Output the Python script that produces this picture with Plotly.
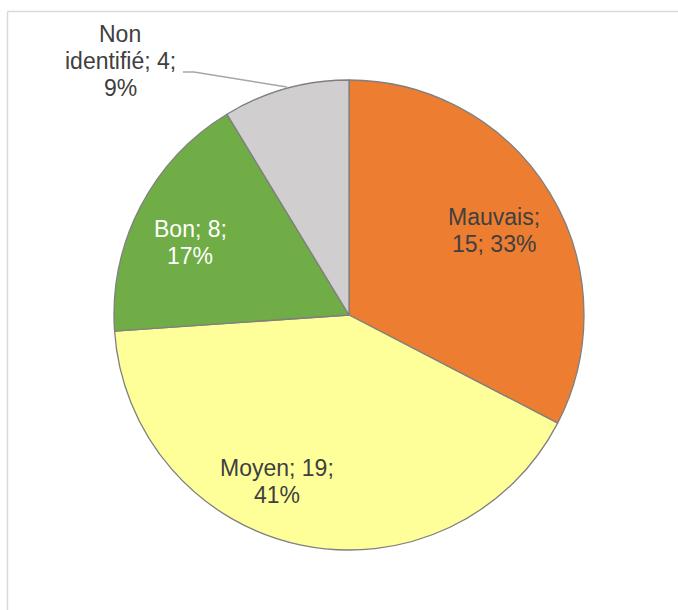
import textwrap
import plotly.graph_objects as go

# Répartition par état
categories = ["Mauvais", "Moyen", "Bon", "Non identifié"]
counts = [15, 19, 8, 4]
colors = ["#ED7D31", "#FFFF99", "#70AD47", "#D0CECE"]
text_colors = ["#404040", "#404040", "#FFFFFF", "#404040"]
wrap_widths = [9, 10, 7, 13]
# label block centres in pixels (x, y from top)
label_pos = [(494, 230.5), (277, 481), (190, 242), (120, 61.5)]

W, H = 678, 610
cx, cy, r = 349, 315, 235
FONT_SIZE = 23
LINE_GAP = 27

total = sum(counts)

fig = go.Figure(
    go.Pie(
        labels=categories,
        values=counts,
        sort=False,
        direction="clockwise",
        rotation=0,
        marker=dict(colors=colors, line=dict(color="#7F7F7F", width=1.3)),
        textinfo="none",
        hoverinfo="none",
        showlegend=False,
        domain=dict(
            x=[(cx - r) / W, (cx + r) / W],
            y=[1 - (cy + r) / H, 1 - (cy - r) / H],
        ),
    )
)

annotations = []
for cat, n, tc, ww, (px, py) in zip(categories, counts, text_colors, wrap_widths, label_pos):
    pct = round(100 * n / total)
    lines = textwrap.wrap(f"{cat}; {n}; {pct}%", width=ww)
    k = len(lines)
    for i, line in enumerate(lines):
        ly = py + (i - (k - 1) / 2) * LINE_GAP
        annotations.append(
            dict(
                x=px / W,
                y=1 - ly / H,
                xref="paper",
                yref="paper",
                text=line,
                showarrow=False,
                xanchor="center",
                yanchor="middle",
                font=dict(family="Liberation Sans, Arial", size=FONT_SIZE, color=tc),
            )
        )


def px2paper(x, y):
    return x / W, 1 - y / H


# leader line for the small slice
lx = [183, 194, 287]
ly = [72, 72, 87]
path_pts = [px2paper(x, y) for x, y in zip(lx, ly)]
leader_path = "M " + " L ".join(f"{x},{y}" for x, y in path_pts)

bx0, by0 = px2paper(7.5, 11.5)
shapes = [
    dict(type="path", xref="paper", yref="paper", path=leader_path,
         line=dict(color="#A6A6A6", width=1.5)),
    # chart area frame (top and left edges)
    dict(type="line", xref="paper", yref="paper", x0=bx0, y0=by0, x1=1.0, y1=by0,
         line=dict(color="#D9D9D9", width=1.5)),
    dict(type="line", xref="paper", yref="paper", x0=bx0, y0=by0, x1=bx0, y1=0,
         line=dict(color="#D9D9D9", width=1.5)),
]

fig.update_layout(
    width=W,
    height=H,
    margin=dict(l=0, r=0, t=0, b=0),
    paper_bgcolor="white",
    plot_bgcolor="white",
    annotations=annotations,
    shapes=shapes,
)

fig.write_html("out.html", config={"displayModeBar": False})
